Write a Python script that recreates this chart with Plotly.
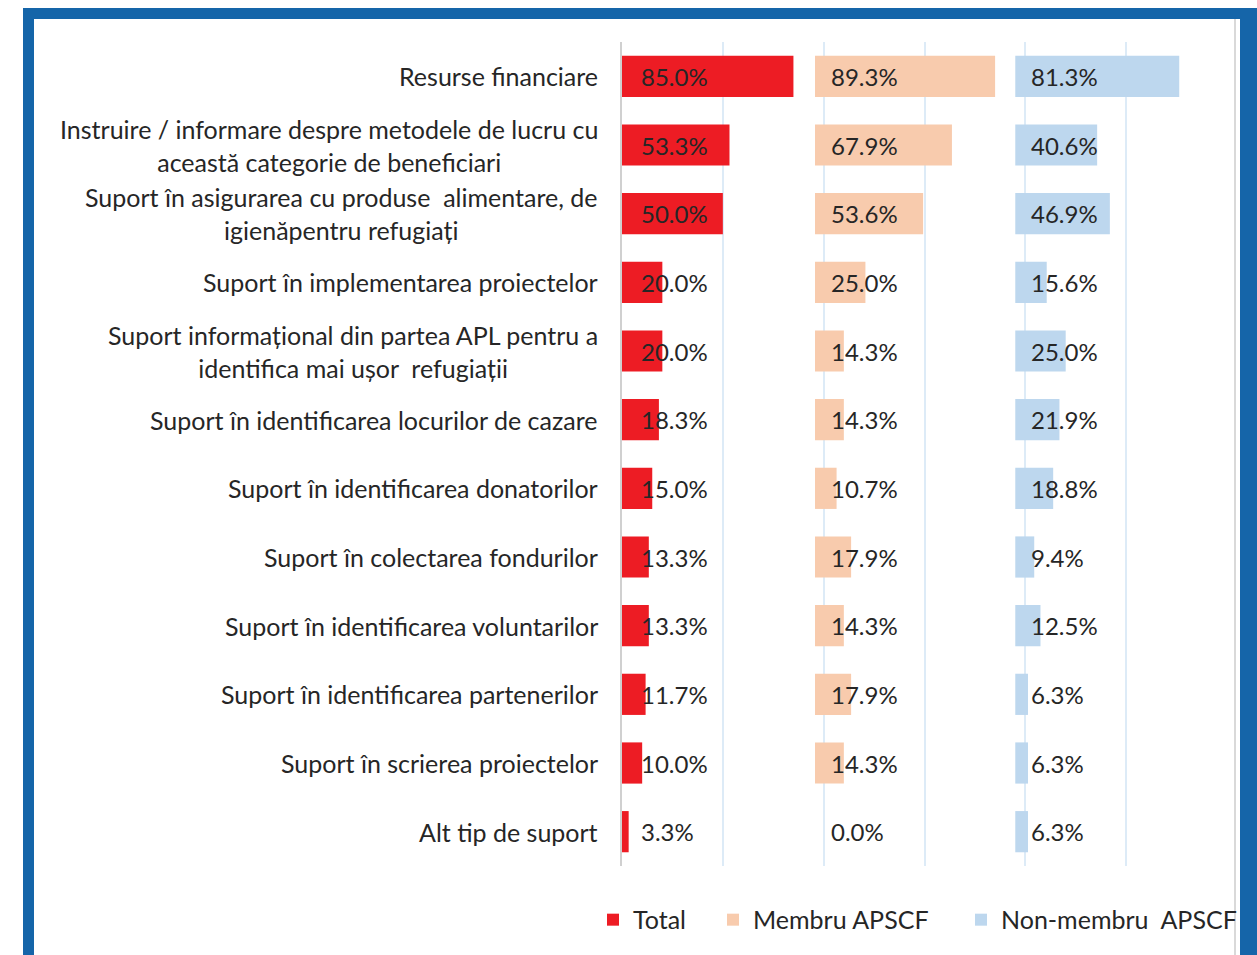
import plotly.graph_objects as go

# Support needs reported by organisations, share of respondents (%)
categories = [
    "Resurse financiare",
    "Instruire / informare despre metodele de lucru cu<br>această categorie de beneficiari",
    "Suport în asigurarea cu produse  alimentare, de<br>igienăpentru refugiați",
    "Suport în implementarea proiectelor",
    "Suport informațional din partea APL pentru a<br>identifica mai ușor  refugiații",
    "Suport în identificarea locurilor de cazare",
    "Suport în identificarea donatorilor",
    "Suport în colectarea fondurilor",
    "Suport în identificarea voluntarilor",
    "Suport în identificarea partenerilor",
    "Suport în scrierea proiectelor",
    "Alt tip de suport",
]
total = [85.0, 53.3, 50.0, 20.0, 20.0, 18.3, 15.0, 13.3, 13.3, 11.7, 10.0, 3.3]
membru = [89.3, 67.9, 53.6, 25.0, 14.3, 14.3, 10.7, 17.9, 14.3, 17.9, 14.3, 0.0]
non_membru = [81.3, 40.6, 46.9, 15.6, 25.0, 21.9, 18.8, 9.4, 12.5, 6.3, 6.3, 6.3]

series_names = ["Total", "Membru APSCF", "Non-membru  APSCF"]

# Each group is drawn in its own panel along a shared percentage axis
panel_base = [0.0, 95.7, 195.0]
colors = ["#ED1C24", "#F8CBAD", "#BDD7EE"]
label_shift = [17, 14, 14]
legend_ids = ["legend", "legend2", "legend3"]
legend_left_px = [593, 713, 961]

FONT = "Lato"
TEXT = "#262626"

W, H = 1257, 955
ML, MR, MT, MB = 622, 34, 42, 87
PW, PH = W - ML - MR, H - MT - MB
X_MAX = 298


def px_x(p):
    return (p - ML) / PW


def px_y(p):
    return (H - MB - p) / PH


fig = go.Figure()
for name, vals, base, col, lg in zip(series_names, [total, membru, non_membru],
                                     panel_base, colors, legend_ids):
    fig.add_trace(go.Bar(
        name=name,
        y=categories,
        x=vals,
        base=[base] * len(vals),
        orientation="h",
        marker=dict(color=col, line=dict(width=0)),
        width=0.6,
        hoverinfo="skip",
        legend=lg,
    ))

annotations = []
# Value labels placed at the start of each bar
for vals, base, shift in zip([total, membru, non_membru], panel_base, label_shift):
    for cat, v in zip(categories, vals):
        annotations.append(dict(
            x=base, y=cat, xref="x", yref="y",
            text=f"{v:.1f}%", showarrow=False,
            xanchor="left", yanchor="middle", xshift=shift,
            font=dict(family=FONT, size=24, color=TEXT),
        ))
# Category labels, right-aligned block with centred lines
for cat in categories:
    annotations.append(dict(
        x=0, y=cat, xref="paper", yref="y",
        text=cat, showarrow=False, align="center",
        xanchor="right", yanchor="middle", xshift=-22,
        font=dict(family=FONT, size=25, color=TEXT),
    ))

# Blue frame around the chart
frame_col = "#1565A9"
shapes = [
    dict(type="rect", xref="paper", yref="paper", x0=px_x(23), x1=px_x(34), y0=px_y(960), y1=px_y(8),
         fillcolor=frame_col, line=dict(width=0), layer="above"),
    dict(type="rect", xref="paper", yref="paper", x0=px_x(23), x1=px_x(1260), y0=px_y(19), y1=px_y(8),
         fillcolor=frame_col, line=dict(width=0), layer="above"),
    dict(type="rect", xref="paper", yref="paper", x0=px_x(1240), x1=px_x(1260), y0=px_y(960), y1=px_y(8),
         fillcolor=frame_col, line=dict(width=0), layer="above"),
    dict(type="line", xref="paper", yref="paper", x0=px_x(1235), x1=px_x(1235), y0=px_y(960), y1=px_y(19),
         line=dict(color="#D9D9D9", width=2), layer="above"),
]

legend_style = dict(
    orientation="h", yanchor="top", xanchor="left",
    font=dict(family=FONT, size=25, color=TEXT),
    itemclick=False, itemdoubleclick=False,
    bgcolor="rgba(0,0,0,0)",
)
legends = {
    lg: dict(legend_style, x=px_x(lx), y=px_y(899))
    for lg, lx in zip(legend_ids, legend_left_px)
}

fig.update_layout(
    width=W, height=H,
    margin=dict(l=ML, r=MR, t=MT, b=MB),
    paper_bgcolor="white", plot_bgcolor="white",
    barmode="overlay",
    showlegend=True,
    xaxis=dict(
        range=[0, X_MAX], dtick=50, tick0=0,
        showgrid=True, gridcolor="#DDEBF7", gridwidth=1.5,
        zeroline=False, showticklabels=False, ticks="", showline=False,
        fixedrange=True,
    ),
    yaxis=dict(
        type="category", categoryorder="array", categoryarray=categories,
        autorange="reversed", showticklabels=False, ticks="",
        showline=True, linecolor="#D0D0D0", linewidth=2, showgrid=False,
        fixedrange=True,
    ),
    annotations=annotations,
    shapes=shapes,
    **legends,
)

fig.write_html("out.html")
